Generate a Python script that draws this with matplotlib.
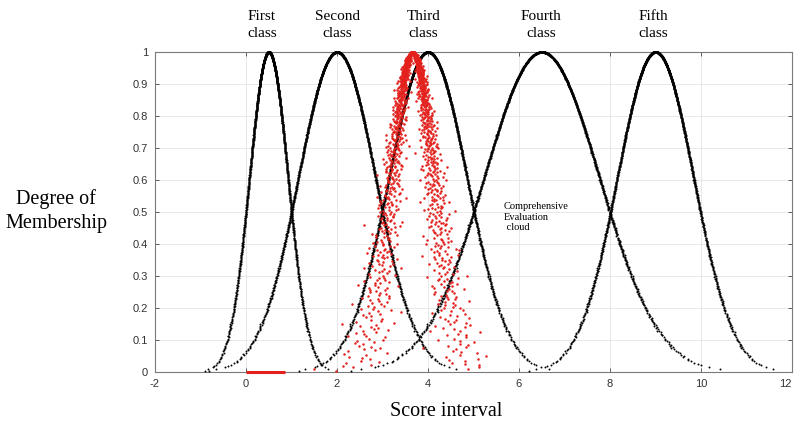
import numpy as np
import matplotlib.pyplot as plt

plt.rcParams['axes.unicode_minus'] = False

# cloud parameters of the five grade clouds (Ex, En, He)
class_names = ["First\nclass", "Second\nclass", "Third\nclass", "Fourth\nclass", "Fifth\nclass"]
class_ex = [0.5, 2.0, 4.0, 6.5, 9.0]
class_en = [0.425, 0.85, 0.86, 1.27, 0.84]
class_he = [0.004, 0.006, 0.006, 0.008, 0.006]
class_label_x = [0.35, 2.0, 3.9, 6.48, 8.95]
class_drops = 1500

# comprehensive evaluation cloud
eval_ex = 3.66
eval_en = 0.46
eval_he = 0.13
eval_drops = 1500
eval_base = [0.0, 0.85]   # red run along the x axis

x_ticks = [-2, 0, 2, 4, 6, 8, 10, 12]
y_ticks = [0, 0.1, 0.2, 0.3, 0.4, 0.5, 0.6, 0.7, 0.8, 0.9, 1.0]
y_tick_labels = ["0", "0.1", "0.2", "0.3", "0.4", "0.5", "0.6", "0.7", "0.8", "0.9", "1"]


def halton(n, base):
    # deterministic low-discrepancy sequence in (0, 1)
    seq = np.zeros(n)
    for i in range(n):
        f, r, k = 1.0, 0.0, i + 1
        while k > 0:
            f /= base
            r += f * (k % base)
            k //= base
        seq[i] = r
    return seq


def norm_ppf(u):
    zg = np.linspace(-5, 5, 4001)
    cdf = np.cumsum(np.exp(-zg ** 2 / 2))
    cdf /= cdf[-1]
    return np.interp(u, cdf, zg)


def cloud_drops(ex, en, he, n, bases=(2, 3)):
    # forward normal cloud generator
    en_p = en + he * norm_ppf(halton(n, bases[1]))
    x = ex + en_p * norm_ppf(halton(n, bases[0]))
    mu = np.exp(-(x - ex) ** 2 / (2 * en_p ** 2))
    return x, mu


fig = plt.figure(figsize=(7.96, 4.23), dpi=100)
ax = fig.add_axes([155 / 796, 51 / 423, 637 / 796, 320 / 423])

for ex, en, he in zip(class_ex, class_en, class_he):
    x, mu = cloud_drops(ex, en, he, class_drops)
    ax.plot(x, mu, ".", color="black", markersize=2.8, markeredgewidth=0, clip_on=False, zorder=3)

x, mu = cloud_drops(eval_ex, eval_en, eval_he, eval_drops, bases=(2, 3))
ax.plot(x, mu, ".", color="#e3201b", markersize=3.6, markeredgewidth=0, clip_on=False, zorder=4)
ax.plot(eval_base, [0, 0], color="#e3201b", lw=2.2, solid_capstyle="butt", clip_on=False, zorder=4)

ax.set_xlim(-2, 12)
ax.set_ylim(0, 1)
ax.set_xticks(x_ticks)
ax.set_yticks(y_ticks)
ax.set_yticklabels(y_tick_labels)
ax.grid(True, color="#e4e4e4", lw=0.6)
ax.set_axisbelow(True)
ax.tick_params(direction="in", top=True, right=True, length=3, width=0.6,
               colors="#444444", labelcolor="#333333", labelsize=8, pad=5)
for sp in ax.spines.values():
    sp.set_color("#7a7a7a")
    sp.set_linewidth(0.8)
for lab in ax.get_xticklabels() + ax.get_yticklabels():
    lab.set_family("Liberation Sans")
ax.get_xticklabels()[-1].set_horizontalalignment("right")

serif = "Liberation Serif"
for name, lx in zip(class_names, class_label_x):
    ax.text(lx, 1.084, name, transform=ax.get_xaxis_transform(), ha="center", va="center",
            family=serif, fontsize=11, linespacing=1.35)

ax.text(5.67, 0.532, "Comprehensive\nEvaluation\n cloud", ha="left", va="top",
        family=serif, fontsize=7.5, linespacing=1.25)

fig.text(56 / 796, 1 - 211 / 423, "Degree of\nMembership", ha="center", va="center",
         family=serif, fontsize=14.5, linespacing=1.3)
fig.text(446 / 796, 1 - 411 / 423, "Score interval", ha="center", va="center",
         family=serif, fontsize=14.5)

fig.savefig("out.png", dpi=100)
